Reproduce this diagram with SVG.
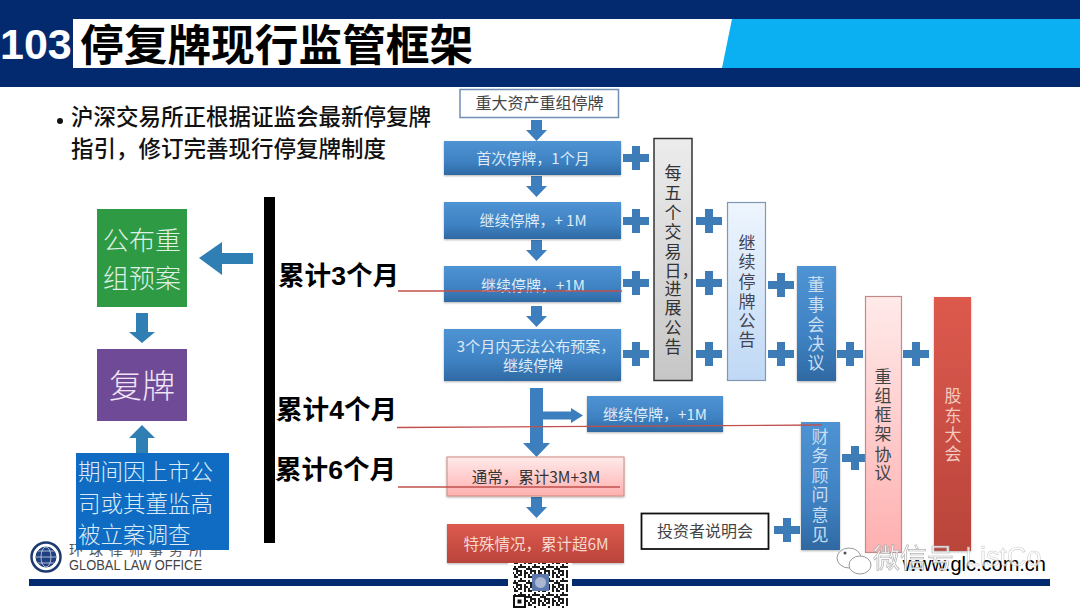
<svg xmlns="http://www.w3.org/2000/svg" width="1080" height="608" viewBox="0 0 1080 608">
<style>
text{font-family:"Noto Sans CJK SC","Liberation Sans",sans-serif}
.lat{font-family:"Liberation Sans","Noto Sans CJK SC",sans-serif}
.w{fill:#dcebf7;font-size:15px;text-anchor:middle}
.d{fill:#444;font-size:16px;text-anchor:middle}
.v{font-size:17px;text-anchor:middle}
.big{fill:#dff0e4;font-weight:300;text-anchor:middle}
.sum{font-size:26.600px;font-weight:700;fill:#000}
.blue{fill:url(#gb);filter:url(#sh)}
.flow{fill:#3d7fbe}
.side{fill:#2f7fb5}
.red{stroke:#c0504d;stroke-width:1.300;fill:none}
</style>
<defs>
<linearGradient id="gb" x1="0" y1="0" x2="0" y2="1"><stop offset="0" stop-color="#4f93d3"/><stop offset=".6" stop-color="#3f82c3"/><stop offset="1" stop-color="#2f69a3"/></linearGradient>
<linearGradient id="gg" x1="0" y1="0" x2="0" y2="1"><stop offset="0" stop-color="#ececec"/><stop offset="1" stop-color="#c6c6c6"/></linearGradient>
<linearGradient id="gl" x1="0" y1="0" x2="0" y2="1"><stop offset="0" stop-color="#eef5fd"/><stop offset="1" stop-color="#bfd8f5"/></linearGradient>
<linearGradient id="gp" x1="0" y1="0" x2="0" y2="1"><stop offset="0" stop-color="#ffeaea"/><stop offset="1" stop-color="#ffb0b0"/></linearGradient>
<linearGradient id="gr" x1="0" y1="0" x2="0" y2="1"><stop offset="0" stop-color="#dd5a4e"/><stop offset="1" stop-color="#b9443a"/></linearGradient>
<filter id="sh" x="-10%" y="-10%" width="120%" height="120%"><feDropShadow dx="0" dy="1" stdDeviation="1" flood-color="#000" flood-opacity=".3"/></filter>
<path id="plus" d="M-13 -4H-4V-12H4V-4H13V4H4V12H-4V4H-13Z" fill="#3d7cb6"/>
<path id="da" d="M-5.500 0H5.500V10H10.500L0 21L-10.500 10H-5.500Z" class="flow"/>
<pattern id="qr" width="14" height="14" patternUnits="userSpaceOnUse"><path d="M0 0h4v2h-4zM6 0h2v4h-2zM10 0h2v2h-2zM10 2h4v2h-4zM2 4h2v4h-2zM0 6h2v2h-2zM4 6h4v2h-4zM10 6h2v4h-2zM12 8h2v2h-2zM0 10h4v2h-4zM6 10h2v4h-2zM12 10h2v4h-2zM2 12h2v2h-2zM8 8h2v2h-2zM8 12h2v2h-2z" fill="#1c1c1c"/></pattern>
</defs>

<rect width="1080" height="608" fill="#fff"/>
<g id="header">
<rect width="1080" height="87" fill="#032a6f"/>
<rect x="73" y="19" width="660" height="49" fill="#fff"/>
<polygon points="732,19 1080,19 1080,68 722,68" fill="#0bb0f3"/>
<text x="0" y="59" class="lat" font-size="43" font-weight="700" fill="#fff">103</text>
<text x="80" y="61" font-size="43.700" font-weight="700" fill="#000">停复牌现行监管框架</text>
</g>

<g id="intro" font-size="22.500" font-weight="500" fill="#111">
<circle cx="60" cy="121" r="3" fill="#111"/>
<text x="71" y="125">沪深交易所正根据证监会最新停复牌</text>
<text x="71" y="157">指引，修订完善现行停复牌制度</text>
</g>

<g id="footer">
<rect x="29" y="579" width="1021" height="7" fill="#032a6f"/>
<g fill="none" stroke="#1d3a70">
<circle cx="46" cy="557" r="14.500" stroke-width="2.500"/>
<circle cx="46" cy="557" r="10" stroke-width="1" fill="#1f3f80"/>
<ellipse cx="46" cy="557" rx="5" ry="10" stroke="#cfd8e8" stroke-width=".8"/>
<path d="M36 557H56M38 551H54M38 563H54" stroke="#cfd8e8" stroke-width=".8"/>
</g>
<text x="69" y="555" font-size="14" letter-spacing="6" fill="#555">环球律师事务所</text>
<text x="69" y="570" class="lat" font-size="15" textLength="133" lengthAdjust="spacingAndGlyphs" fill="#444">GLOBAL LAW OFFICE</text>
<text x="1046" y="571" class="lat" font-size="20" text-anchor="end" fill="#000">www.glc.com.cn</text>
</g>

<g id="connectors">
<g id="left-arrows">
<polygon class="side" points="199,258 222,242 222,253 253,253 253,264 222,264 222,275"/>
<polygon class="side" points="136,313 148,313 148,332 155,332 142,343 129,332 136,332"/>
<polygon class="side" points="142,425 155,438 148,438 148,453 136,453 136,438 129,438"/>
</g>
<g id="flow-arrows">
<use href="#da" x="536.500" y="120"/>
<use href="#da" x="536.500" y="176"/>
<use href="#da" x="536.500" y="240"/>
<use href="#da" x="536.500" y="306"/>
<path class="flow" d="M530 388H543V411.500H571V408L583 415.500L571 423V419.500H543V443H550L536.500 457L523 443H530Z"/>
<use href="#da" x="536.500" y="497"/>
</g>
<g id="plus-signs">
<use href="#plus" x="636" y="158"/><use href="#plus" x="636" y="221"/><use href="#plus" x="636" y="283"/><use href="#plus" x="636" y="354"/>
<use href="#plus" x="709" y="221"/><use href="#plus" x="709" y="283"/><use href="#plus" x="709" y="354"/>
<use href="#plus" x="781" y="285"/><use href="#plus" x="781" y="354"/>
<use href="#plus" x="850" y="354"/><use href="#plus" x="916" y="354"/>
<use href="#plus" x="855" y="458"/><use href="#plus" x="787" y="530"/>
</g>
</g>

<g id="n-timeline-bar"><rect x="264" y="197" width="11" height="346" fill="#000"/></g>
<g id="n-publish"><rect x="97" y="209" width="90" height="98" fill="#2f9a44"/>
<text class="big" x="142" y="250" font-size="26">公布重</text><text class="big" x="142" y="288" font-size="26">组预案</text></g>
<g id="n-resume"><rect x="97" y="349" width="90" height="72" fill="#6f4a96"/>
<text class="big" x="142" y="398" font-size="33" style="fill:#f0e4f5">复牌</text></g>
<g id="n-investigation"><rect x="76" y="453" width="153" height="97" fill="#0f6cc2"/>
<g font-size="22.500" fill="#dcebf7" font-weight="300"><text x="78" y="480">期间因上市公</text><text x="78" y="512">司或其董监高</text><text x="78" y="543">被立案调查</text></g></g>

<g id="n-start"><rect x="460" y="89.500" width="158.500" height="28" fill="#fff" stroke="#6f8fb5" stroke-width="1.500"/><text class="d" x="539.500" y="109">重大资产重组停牌</text></g>
<g id="n-first"><rect class="blue" x="444" y="141" width="177" height="34"/><text class="w" x="533" y="164">首次停牌，1个月</text></g>
<g id="n-cont1"><rect class="blue" x="444" y="202" width="177" height="37"/><text class="w" x="533" y="226">继续停牌，+ 1M</text></g>
<g id="n-cont2"><rect class="blue" x="444" y="266" width="177" height="36"/><text class="w" x="533" y="291">继续停牌，+1M</text></g>
<g id="n-cont3"><rect class="blue" x="444" y="329" width="177" height="52"/><text class="w" x="536" y="352" font-size="15.500">3个月内无法公布预案，</text><text class="w" x="533" y="371">继续停牌</text></g>
<g id="n-cont4"><rect class="blue" x="587" y="396" width="136" height="36"/><text class="w" x="655" y="420">继续停牌，+1M</text></g>
<g id="n-usual"><rect x="447" y="457" width="177" height="39" fill="url(#gp)" stroke="#d08a80" filter="url(#sh)"/><text x="536" y="483" font-size="15.500" text-anchor="middle" fill="#333">通常，累计3M+3M</text></g>
<g id="n-special"><rect x="447" y="524" width="177" height="39" fill="url(#gr)" filter="url(#sh)"/><text x="536" y="550" font-size="15.500" text-anchor="middle" fill="#f6d8d0">特殊情况，累计超6M</text></g>
<g id="n-investor"><rect x="641.500" y="513.500" width="127" height="35.500" fill="#fff" stroke="#111" stroke-width="1.800"/><text class="d" x="705" y="537">投资者说明会</text></g>

<g id="n-every5"><rect x="654" y="138.500" width="38" height="242" fill="url(#gg)" stroke="#333" stroke-width="1.500"/>
<g fill="#333"><text x="673" y="179" class="v">每</text><text x="673" y="199" class="v">五</text><text x="673" y="219" class="v">个</text><text x="673" y="238" class="v">交</text><text x="673" y="258" class="v">易</text><text x="664.500" y="277" font-size="17" text-anchor="start">日，</text><text x="673" y="295" class="v">进</text><text x="673" y="314" class="v">展</text><text x="673" y="334" class="v">公</text><text x="673" y="353" class="v">告</text></g></g>
<g id="n-notice"><rect x="727.500" y="202.500" width="38" height="178" fill="url(#gl)" stroke="#8398b0" stroke-width="1.200"/>
<g fill="#445"><text x="747" y="249" class="v">继</text><text x="747" y="268" class="v">续</text><text x="747" y="288" class="v">停</text><text x="747" y="308" class="v">牌</text><text x="747" y="327" class="v">公</text><text x="747" y="346" class="v">告</text></g></g>
<g id="n-board"><rect class="blue" x="797" y="266" width="39" height="115"/>
<g fill="#c9def0"><text x="816" y="291" class="v">董</text><text x="816" y="311" class="v">事</text><text x="816" y="331" class="v">会</text><text x="816" y="350" class="v">决</text><text x="816" y="369" class="v">议</text></g></g>
<g id="n-framework"><rect x="865.500" y="296.500" width="36" height="256" fill="url(#gp)" stroke="#c08a86" stroke-width="1.200"/>
<g fill="#444"><text x="883" y="383" class="v">重</text><text x="883" y="402" class="v">组</text><text x="883" y="421" class="v">框</text><text x="883" y="440" class="v">架</text><text x="883" y="461" class="v">协</text><text x="883" y="479" class="v">议</text></g></g>
<g id="n-meeting"><rect x="934" y="297" width="37" height="254" fill="url(#gr)" filter="url(#sh)"/>
<g fill="#f3c9bf"><text x="953" y="402" class="v">股</text><text x="953" y="422" class="v">东</text><text x="953" y="441" class="v">大</text><text x="953" y="460" class="v">会</text></g></g>
<g id="n-advisor"><rect class="blue" x="801" y="422" width="39" height="128"/>
<g fill="#c9def0"><text x="820" y="443" class="v">财</text><text x="820" y="462" class="v">务</text><text x="820" y="482" class="v">顾</text><text x="820" y="501" class="v">问</text><text x="820" y="521" class="v">意</text><text x="820" y="541" class="v">见</text></g></g>

<g id="cumulative">
<text class="sum" x="278" y="285">累计<tspan class="lat">3</tspan>个月</text>
<text class="sum" x="276" y="419">累计<tspan class="lat">4</tspan>个月</text>
<text class="sum" x="275" y="479">累计<tspan class="lat">6</tspan>个月</text>
<path class="red" d="M398 291L622 291"/>
<path class="red" d="M397 427.500L822 425"/>
<path class="red" d="M398 487L620 487"/>
</g>

<g id="qr-code">
<rect x="508" y="563" width="64" height="23" fill="#fff"/>
<rect x="513" y="563" width="55" height="45" fill="#fff"/>
<rect x="513" y="563" width="55" height="45" fill="url(#qr)"/>
<rect x="514" y="596" width="11" height="11" fill="#fff" stroke="#111" stroke-width="2"/><rect x="517.500" y="599.500" width="4" height="4" fill="#111"/>
<rect x="532" y="574" width="17" height="17" fill="#5c78ad"/><circle cx="540.500" cy="582.500" r="5.500" fill="#a9b7d2"/>
</g>

<g id="watermark">
<ellipse cx="849" cy="558" rx="12" ry="10" fill="#fff" stroke="#999"/>
<ellipse cx="860" cy="565" rx="11" ry="9" fill="#fff" stroke="#999"/>
<circle cx="845" cy="553" r="1.500" fill="#555"/>
<text x="873" y="568" font-size="27" fill="#fff" stroke="#aaa" stroke-width=".7" opacity=".9">微信号</text>
<text x="965" y="566" class="lat" font-size="27" fill="#fff" stroke="#bbb" stroke-width=".6" opacity=".75">ListCo</text>
</g>
</svg>
